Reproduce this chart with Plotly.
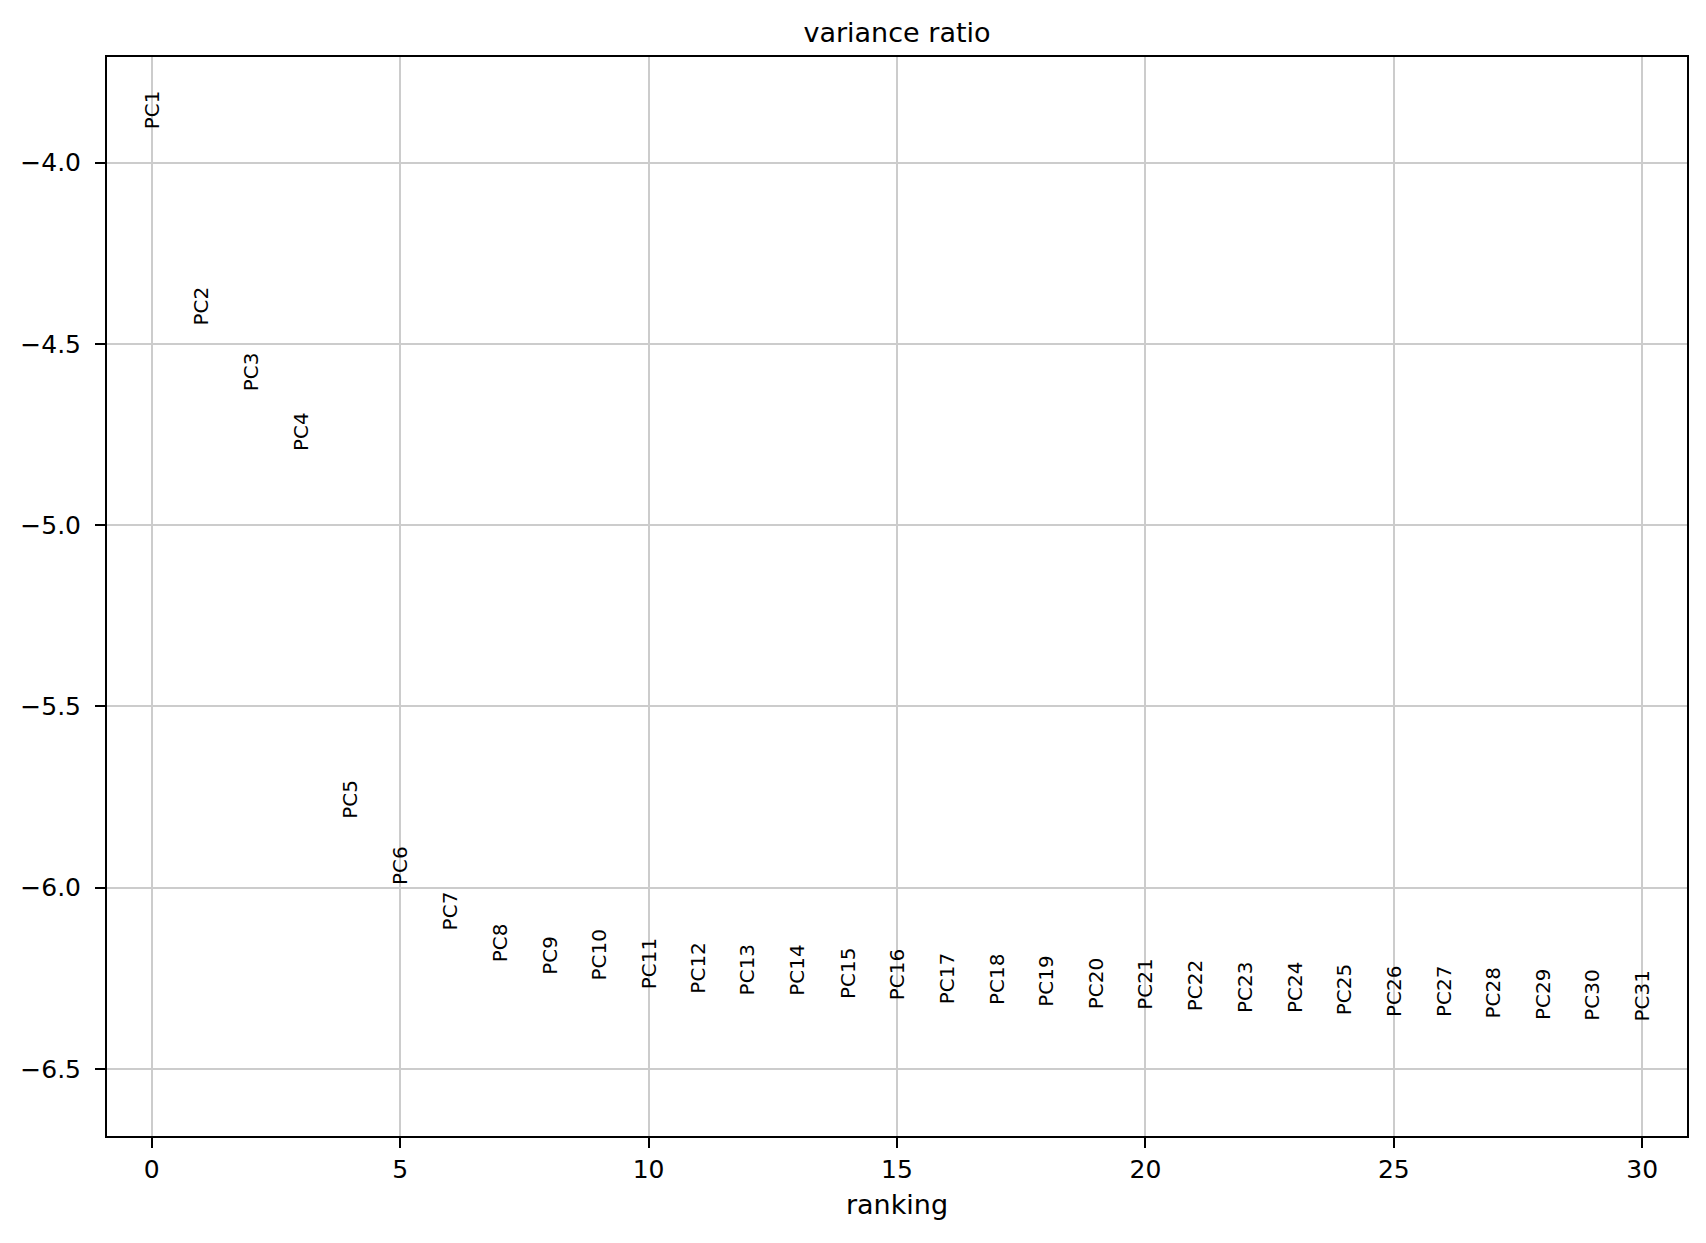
import plotly.graph_objects as go

# Data: log variance ratio per principal component (ranking order)
labels = [f"PC{i}" for i in range(1, 32)]
ranking = list(range(31))
log_variance_ratio = [
    -3.908, -4.450, -4.632, -4.795, -5.810, -5.994, -6.117, -6.206, -6.241, -6.255,
    -6.280, -6.293, -6.296, -6.298, -6.308, -6.312, -6.321, -6.324, -6.330, -6.335,
    -6.337, -6.342, -6.345, -6.346, -6.353, -6.356, -6.357, -6.362, -6.364, -6.367,
    -6.370,
]

x_ticks = [0, 5, 10, 15, 20, 25, 30]
y_ticks = [-6.5, -6.0, -5.5, -5.0, -4.5, -4.0]

FONT = "DejaVu Sans"
# page body has an 8px margin; compensate so the plot lands where the reference is
W, H = 1690, 1227
ml, mr, mt, mb = 99, 11, 49, 99

fig = go.Figure()
# invisible points to anchor the data
fig.add_trace(go.Scatter(x=ranking, y=log_variance_ratio, mode="markers",
                         marker=dict(size=1, color="rgba(0,0,0,0)"),
                         showlegend=False, hoverinfo="skip"))

for xv, yv, lab in zip(ranking, log_variance_ratio, labels):
    fig.add_annotation(x=xv, y=yv, xref="x", yref="y", text=lab, showarrow=False,
                       textangle=-90, xanchor="center", yanchor="bottom",
                       borderpad=0, borderwidth=0,
                       font=dict(family=FONT, size=20, color="black"))

axis_common = dict(showline=True, linecolor="black", linewidth=2, mirror=True,
                   ticks="outside", ticklen=10, tickwidth=2, tickcolor="black",
                   showgrid=True, gridcolor="#cccccc", gridwidth=1.5,
                   zeroline=False,
                   tickfont=dict(family=FONT, size=25, color="black"))

fig.update_xaxes(range=[-0.9, 30.9], tickvals=x_ticks, ticklabelstandoff=0,
                 title=dict(text="ranking", font=dict(family=FONT, size=27, color="black"),
                            standoff=12),
                 **axis_common)
fig.update_yaxes(range=[-6.685, -3.709], tickvals=y_ticks, tickformat=".1f",
                 ticklabelstandoff=9, **axis_common)

fig.update_layout(
    width=W, height=H,
    margin=dict(l=ml, r=mr, t=mt, b=mb, autoexpand=False),
    paper_bgcolor="white", plot_bgcolor="white",
    font=dict(family=FONT, color="black"),
    title=dict(text="variance ratio", x=(ml + (W - mr)) / 2 / W, xanchor="center",
               y=1 - 24.6 / H, yanchor="middle", yref="container",
               font=dict(family=FONT, size=27, color="black")),
)

fig.write_html("out.html")
